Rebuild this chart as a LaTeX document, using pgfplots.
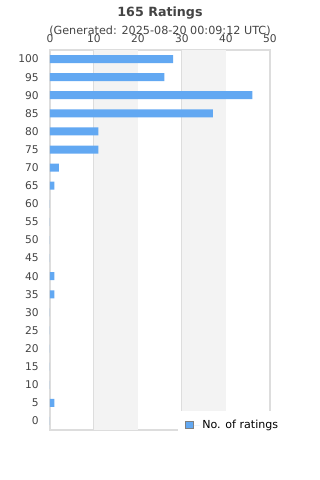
\documentclass[border=0pt]{standalone}
\usepackage{fontspec}
\setmainfont{DejaVu Sans}
\usepackage{pgfplots}
\pgfplotsset{compat=1.18}
\definecolor{barblue}{RGB}{98,168,242}
\definecolor{gridgray}{RGB}{221,221,221}
\definecolor{bandgray}{RGB}{243,243,243}
\definecolor{labgray}{RGB}{68,68,68}
\begin{document}
\begin{tikzpicture}
\begin{axis}[
  set layers,
  at={(37.5pt,37.5pt)}, anchor=south west,
  scale only axis, width=165pt, height=285pt,
  xmin=0, xmax=50, ymin=-2.5, ymax=102.5,
  xbar, bar width=6pt,
  xtick={0,10,...,50}, ytick={0,5,...,100},
  xticklabel pos=upper,
  major tick length=0pt,
  axis line style={draw=gridgray, line width=0.8pt},
  xmajorgrids, grid style={draw=gridgray, line width=0.75pt},
  /pgf/number format/assume math mode=true,
  tick label style={font=\fontsize{8}{9}\selectfont, text=labgray},
  yticklabel style={xshift=-5pt},
  xticklabel style={yshift=1.8pt},
  legend style={at={(0.582,0.05)}, anchor=north west, draw=none, fill=white,
    font=\fontsize{8.3}{10}\selectfont, text=black, inner xsep=5.25pt, inner ysep=4.5pt},
  legend cell align=left,
  legend image code/.code={\draw[fill=barblue, draw=gray, line width=0.6pt] (0pt,-2.8pt) rectangle (5.4pt,2.8pt); \path (0pt,0pt) -- (10.5pt,0pt);},
]
\fill[bandgray, on layer=axis background] (axis cs:10,-2.5) rectangle (axis cs:20,102.5);
\fill[bandgray, on layer=axis background] (axis cs:30,-2.5) rectangle (axis cs:40,102.5);
\addplot[fill=barblue, draw=none] coordinates {
(0,0) (1,5) (0,10) (0,15) (0,20) (0,25) (0,30) (1,35) (1,40) (0,45) (0,50)
(0,55) (0,60) (1,65) (2,70) (11,75) (11,80) (37,85) (46,90) (26,95) (28,100)};
\addlegendentry{No. of ratings}
\end{axis}
\node[font=\fontsize{9.5}{11}\bfseries\selectfont, text=labgray] at (120pt,350pt) {165 Ratings};
\node[font=\fontsize{8.4}{10}\selectfont, text=labgray] at (120pt,336.4pt) {(Generated: 2025-08-20 00:09:12 UTC)};
\path (0,0) rectangle (240pt,360pt);
\end{tikzpicture}
\end{document}
